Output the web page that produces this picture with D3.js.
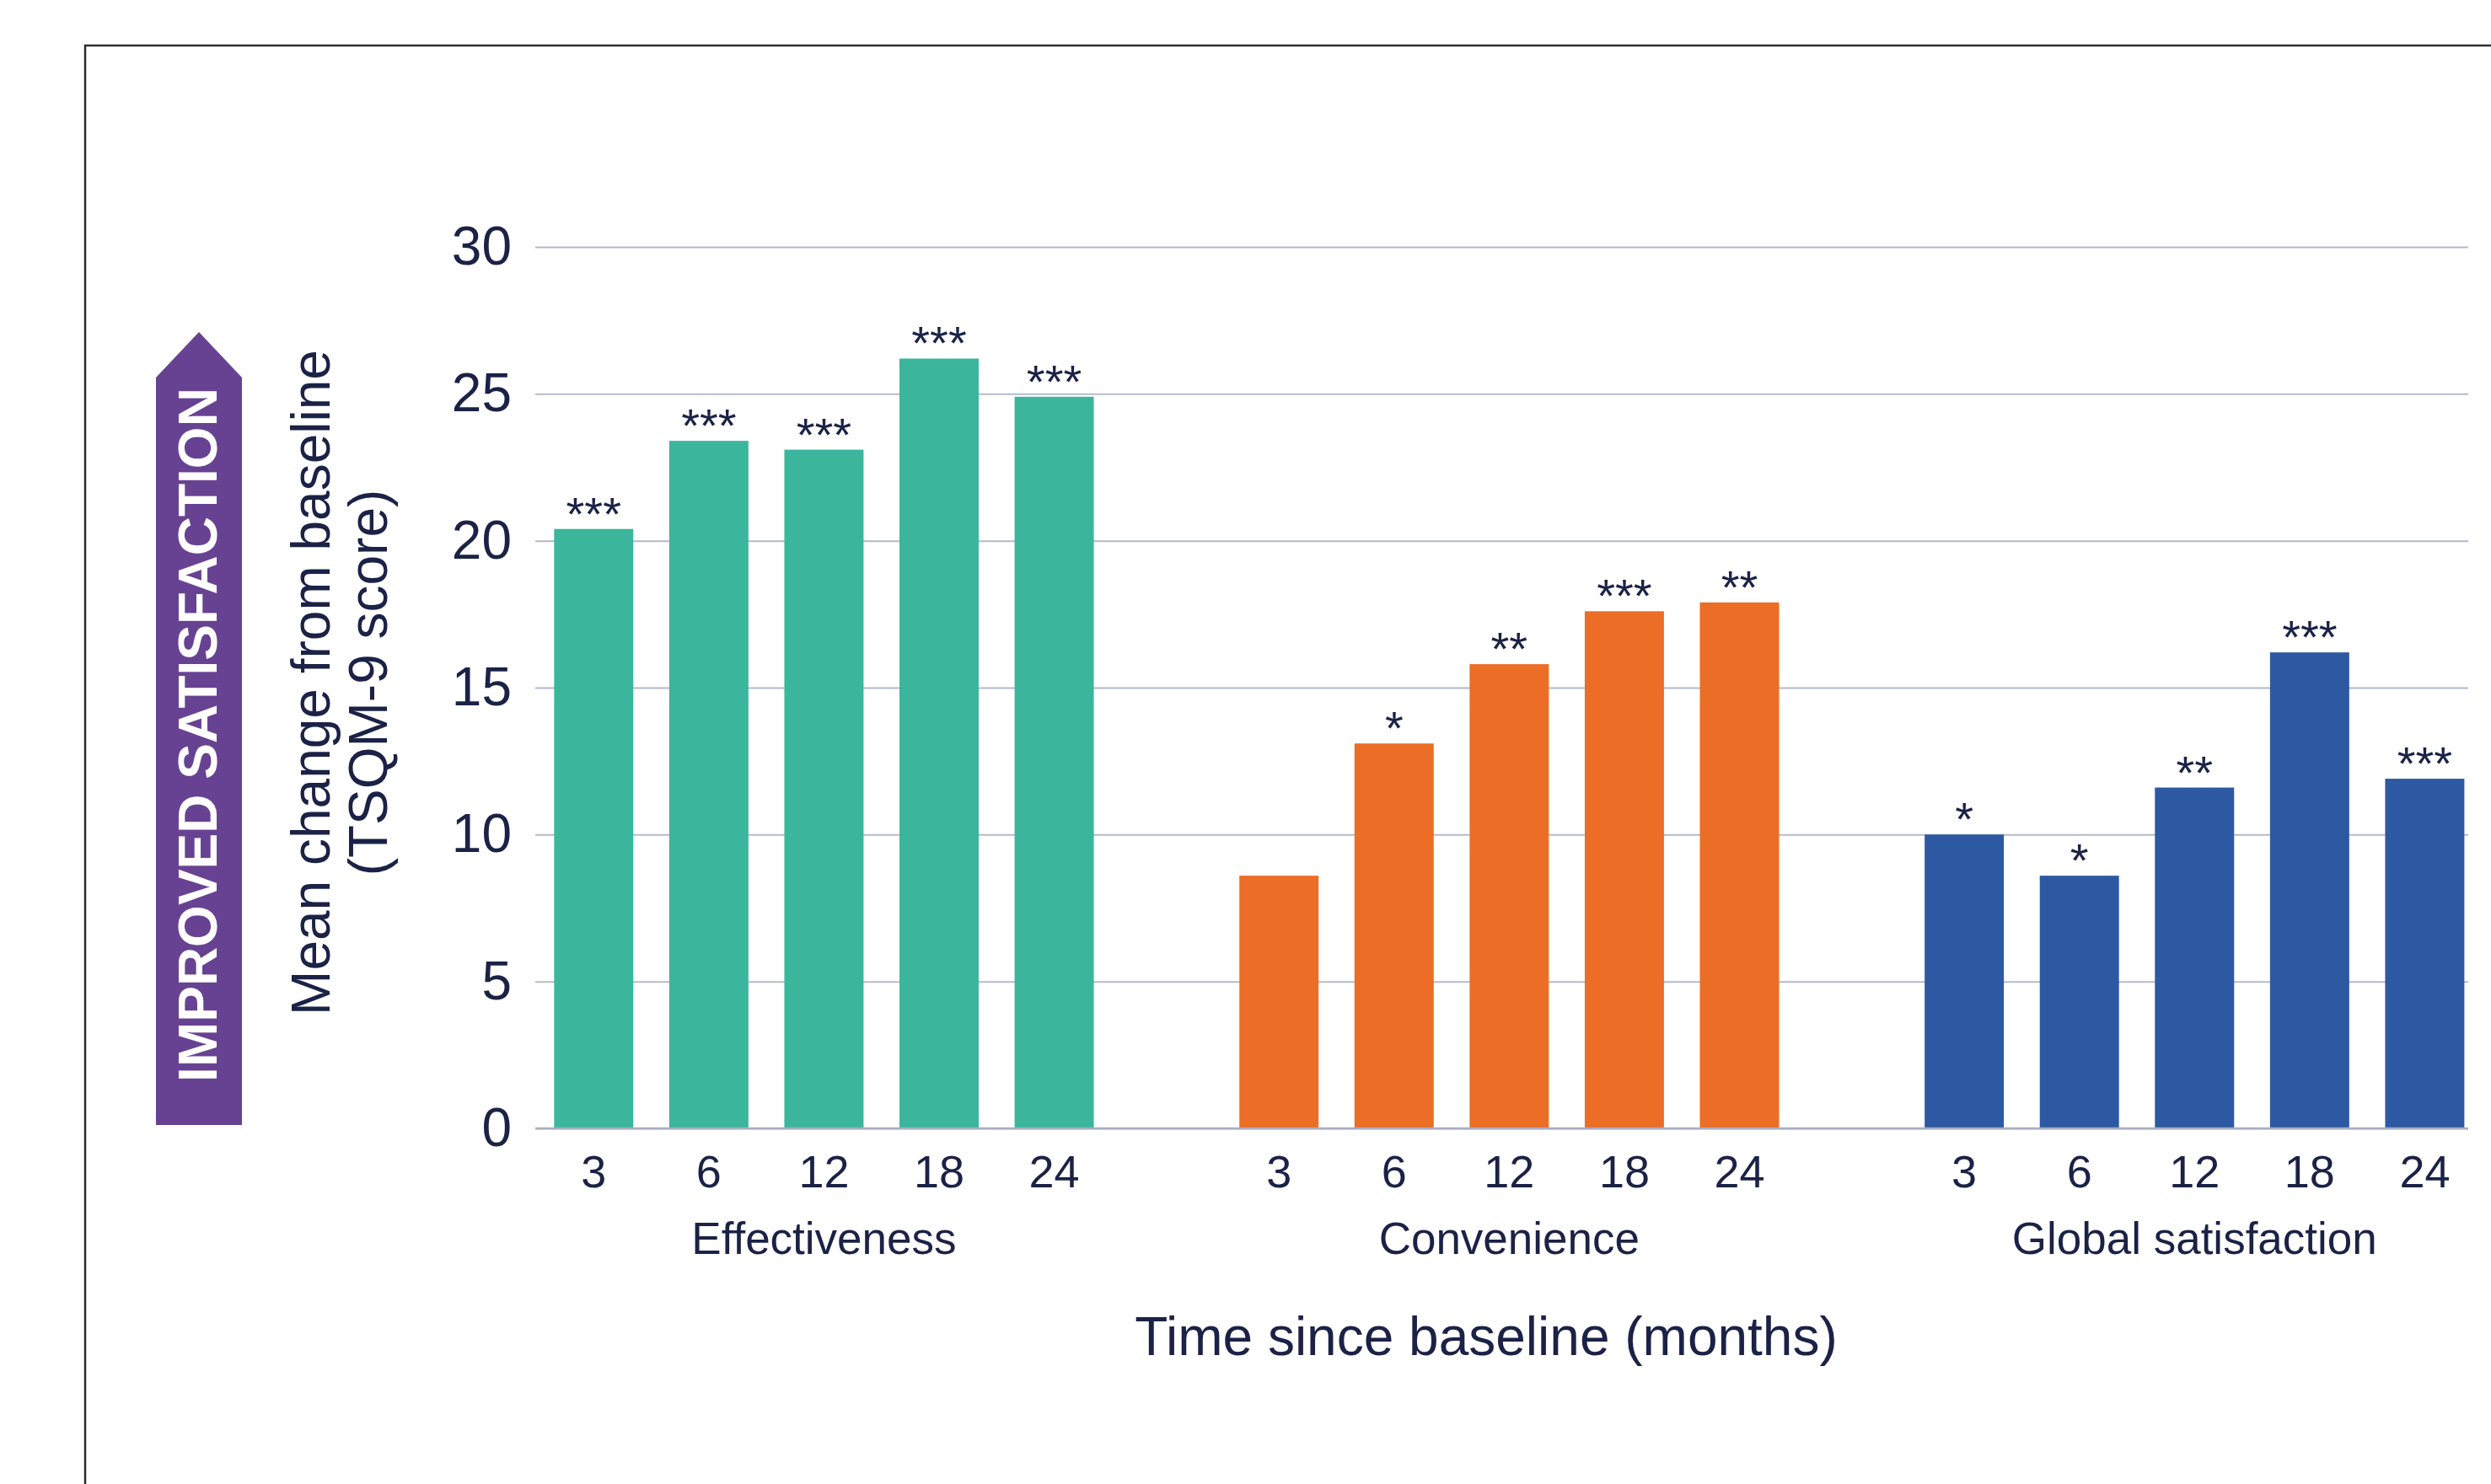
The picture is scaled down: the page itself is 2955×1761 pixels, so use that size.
<!DOCTYPE html>
<html>
<head>
<meta charset="utf-8">
<script src="https://cdn.jsdelivr.net/npm/d3@7"></script>
<style>
  html, body { margin: 0; padding: 0; background: #ffffff; }
  svg { display: block; }
  text { font-family: "Liberation Sans", Arial, Helvetica, sans-serif; }
</style>
</head>
<body>
<svg id="chart" width="2955" height="1761"></svg>
<script>
// Domains of the TSQM-9 questionnaire, months since baseline, and mean change values
const domains = ["Effectiveness", "Convenience", "Global satisfaction"];
const months = ["3", "6", "12", "18", "24"];
const effectiveness = [20.4, 23.4, 23.1, 26.2, 24.9];
const convenience = [8.6, 13.1, 15.8, 17.6, 17.9];
const globalSatisfaction = [10.0, 8.6, 11.6, 16.2, 11.9];
// Significance markers versus baseline
const effectivenessSig = ["***", "***", "***", "***", "***"];
const convenienceSig = ["", "*", "**", "***", "**"];
const globalSig = ["*", "*", "**", "***", "***"];
const yTicks = [0, 5, 10, 15, 20, 25, 30];

const colors = { "Effectiveness": "#3bb69d", "Convenience": "#ec6d25", "Global satisfaction": "#2d59a2" };
const textColor = "#1b2246";
const gridColor = "#b3bacb";

const series = [
  { domain: "Effectiveness", values: effectiveness, sig: effectivenessSig },
  { domain: "Convenience", values: convenience, sig: convenienceSig },
  { domain: "Global satisfaction", values: globalSatisfaction, sig: globalSig }
];

const svg = d3.select("#chart");

// Outer frame (runs off the right and bottom edges)
svg.append("rect")
  .attr("x", 101).attr("y", 54)
  .attr("width", 3200).attr("height", 2000)
  .attr("fill", "none")
  .attr("stroke", "#2e2e2e")
  .attr("stroke-width", 2.5);

// Plot geometry
const gridLeft = 635, gridRight = 2928;
const y = d3.scaleLinear().domain([0, 30]).range([1339, 293]);

const xGroup = d3.scaleBand()
  .domain(domains)
  .range([636, 2944.7])
  .paddingInner(0.16)
  .paddingOuter(0);

const xMonth = d3.scaleBand()
  .domain(months)
  .range([0, xGroup.bandwidth()])
  .paddingInner(0.312)
  .paddingOuter(0.156);

// Y axis with horizontal gridlines
const yAxis = svg.append("g")
  .attr("transform", `translate(${gridLeft},0)`)
  .call(d3.axisLeft(y)
    .tickValues(yTicks)
    .tickSizeInner(-(gridRight - gridLeft))
    .tickSizeOuter(0)
    .tickPadding(28));
yAxis.select(".domain").remove();
yAxis.selectAll(".tick line")
  .attr("stroke", gridColor)
  .attr("stroke-width", 2);
yAxis.selectAll(".tick text")
  .attr("fill", textColor)
  .style("font-size", "64px");

// Bars, significance markers and month ticks per domain
series.forEach(s => {
  const g = svg.append("g")
    .attr("transform", `translate(${xGroup(s.domain)},0)`);

  g.selectAll("rect.bar")
    .data(s.values)
    .join("rect")
    .attr("class", "bar")
    .attr("x", (d, i) => xMonth(months[i]))
    .attr("width", xMonth.bandwidth())
    .attr("y", d => y(d))
    .attr("height", d => y(0) - y(d))
    .attr("fill", colors[s.domain]);

  g.selectAll("text.sig")
    .data(s.values)
    .join("text")
    .attr("class", "sig")
    .attr("x", (d, i) => xMonth(months[i]) + xMonth.bandwidth() / 2)
    .attr("y", d => y(d) + 1)
    .attr("text-anchor", "middle")
    .attr("fill", textColor)
    .style("font-size", "56px")
    .text((d, i) => s.sig[i]);

  const xAxis = g.append("g")
    .attr("transform", `translate(0,${y(0)})`)
    .call(d3.axisBottom(xMonth).tickSize(0).tickPadding(32));
  xAxis.select(".domain").remove();
  xAxis.selectAll(".tick text")
    .attr("fill", textColor)
    .style("font-size", "54px");

  g.append("text")
    .attr("x", xGroup.bandwidth() / 2)
    .attr("y", 1488)
    .attr("text-anchor", "middle")
    .attr("fill", textColor)
    .style("font-size", "53px")
    .text(s.domain);
});

// Zero baseline
svg.append("line")
  .attr("x1", gridLeft).attr("x2", gridRight)
  .attr("y1", y(0)).attr("y2", y(0))
  .attr("stroke", "#a6aec4")
  .attr("stroke-width", 2.5);

// X axis title
svg.append("text")
  .attr("x", 1763)
  .attr("y", 1608)
  .attr("text-anchor", "middle")
  .attr("fill", textColor)
  .style("font-size", "64px")
  .text("Time since baseline (months)");

// Y axis title (two lines)
const yTitleLines = ["Mean change from baseline", "(TSQM-9 score)"];
const yTitleX = [391, 459];
yTitleLines.forEach((t, i) => {
  svg.append("text")
    .attr("transform", `translate(${yTitleX[i]},810) rotate(-90)`)
    .attr("text-anchor", "middle")
    .attr("fill", textColor)
    .style("font-size", "64px")
    .text(t);
});

// Direction arrow: improved satisfaction upward
const arrowLeft = 185, arrowRight = 287, arrowTip = 394, arrowShoulder = 448, arrowBottom = y(0) - 4;
const arrowMid = (arrowLeft + arrowRight) / 2;
const arrowPath = d3.path();
arrowPath.moveTo(arrowMid, arrowTip);
arrowPath.lineTo(arrowRight, arrowShoulder);
arrowPath.lineTo(arrowRight, arrowBottom);
arrowPath.lineTo(arrowLeft, arrowBottom);
arrowPath.lineTo(arrowLeft, arrowShoulder);
arrowPath.closePath();
svg.append("path")
  .attr("d", arrowPath.toString())
  .attr("fill", "#684292");

svg.append("text")
  .attr("transform", `translate(257,872) rotate(-90)`)
  .attr("text-anchor", "middle")
  .attr("fill", "#ffffff")
  .style("font-size", "64px")
  .style("font-weight", "bold")
  .text("IMPROVED SATISFACTION");
</script>
</body>
</html>
